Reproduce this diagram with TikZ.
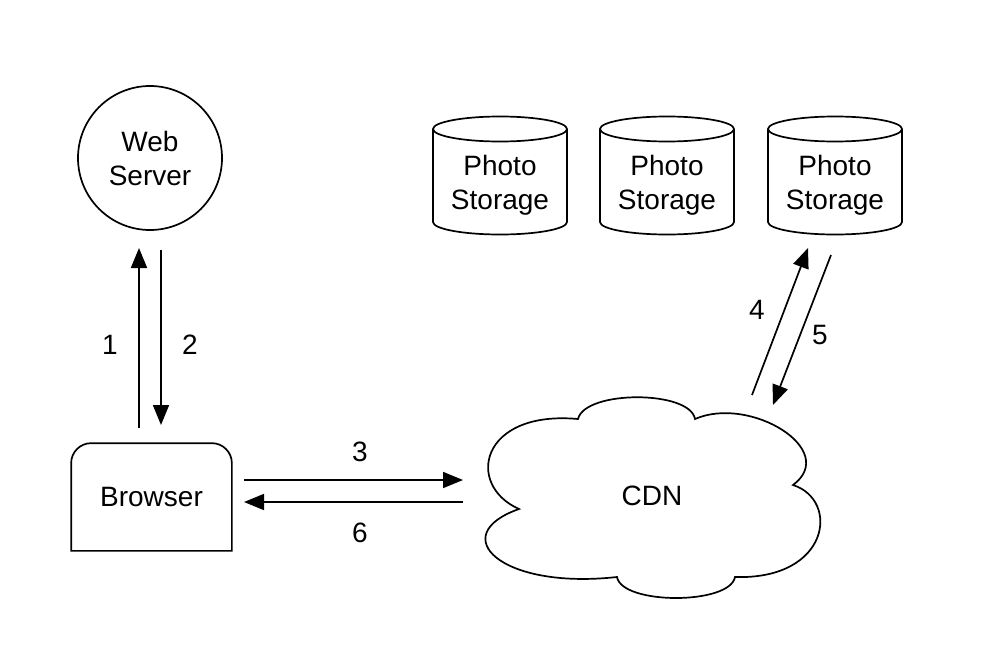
\documentclass[tikz,border=0pt]{standalone}
\usepackage{fontspec}
\setmainfont{Liberation Sans}
\usetikzlibrary{arrows.meta}
\begin{document}
\begin{tikzpicture}[x=1pt,y=-1pt,line width=1.7pt,
  font=\fontsize{28}{34}\selectfont,
  arr/.style={-{Triangle[length=20pt,width=16pt]}},
  lbl/.style={inner sep=0pt}]
\useasboundingbox (0,0) rectangle (982,648);

% web server and browser
\node[draw,circle,minimum size=144pt,inner sep=0pt,align=center] (web) at (150,158) {Web\\Server};
\node[minimum width=159pt,minimum height=106pt] (browser) at (151.5,497) {Browser};
\draw (browser.south east) -- (browser.south west)
  [rounded corners=20pt] -- (browser.north west) -- (browser.north east)
  [sharp corners] -- (browser.south east) -- cycle;

% photo storage
\foreach \x/\n in {500/st1,667/st2,835/st3}{
  \draw (\x-67,129) -- (\x-67,222) arc[start angle=180,end angle=0,x radius=67,y radius=12.5] -- (\x+67,129);
  \draw (\x,129) ellipse[x radius=67,y radius=12.5];
  \node[align=center] (\n) at (\x,185) {Photo\\Storage};
}

% cdn cloud
\draw (519,509) .. controls (465,485) and (480,410) .. (578,419)
  .. controls (585,390) and (690,390) .. (695,419)
  .. controls (750,395) and (840,450) .. (793,485)
  .. controls (840,500) and (830,580) .. (735,577)
  .. controls (730,605) and (622,605) .. (617,577)
  .. controls (500,590) and (445,535) .. (519,509) -- cycle;
\node (cdn) at (652,496) {CDN};

% connector ends
\coordinate (a1) at (139,428);
\coordinate (b1) at (139,248);
\coordinate (a2) at (161,250);
\coordinate (b2) at (161,425);
\coordinate (a3) at (244,480);
\coordinate (b3) at (463,480);
\coordinate (a6) at (463,502);
\coordinate (b6) at (244,502);
\coordinate (a4) at (752,395);
\coordinate (b4) at (808,248);
\coordinate (a5) at (831,255);
\coordinate (b5) at (773,405);

\draw[arr] (a1) -- (b1);
\draw[arr] (a2) -- (b2);
\draw[arr] (a3) -- (b3);
\draw[arr] (a6) -- (b6);
\draw[arr] (a4) -- (b4);
\draw[arr] (a5) -- (b5);

\node[lbl] (l1) at (110,345) {1};
\node[lbl] (l2) at (190,345) {2};
\node[lbl] (l3) at (360,452) {3};
\node[lbl] (l6) at (360,533) {6};
\node[lbl] (l4) at (757,310) {4};
\node[lbl] (l5) at (820,335) {5};
\end{tikzpicture}
\end{document}
